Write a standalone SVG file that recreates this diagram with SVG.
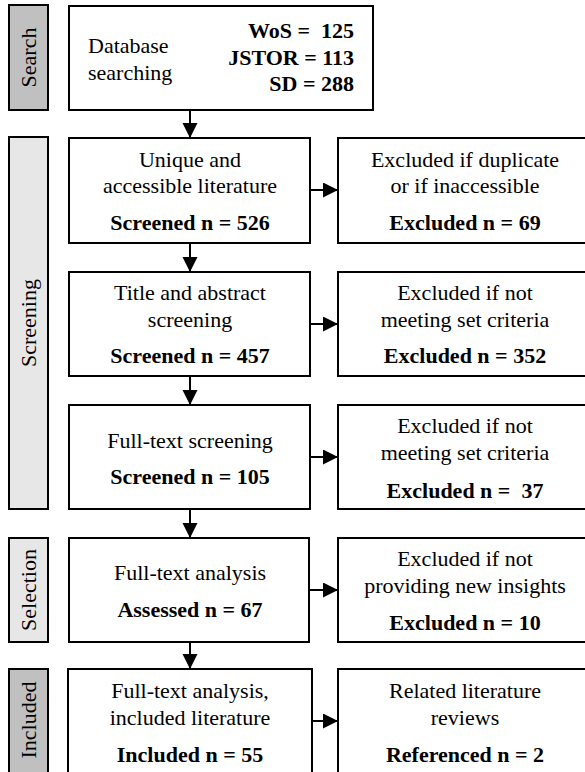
<svg xmlns="http://www.w3.org/2000/svg" width="585" height="772" viewBox="0 0 585 772">
<defs>
<style>
.box{fill:#ffffff;stroke:#000000;stroke-width:2}
.side1{fill:#c0c0c0;stroke:#000000;stroke-width:2}
.side2{fill:#e7e7e7;stroke:#000000;stroke-width:2}
text{font-family:"Liberation Serif","Times New Roman",serif;font-size:22px;fill:#000000}
.c{text-anchor:middle}
.b{font-weight:bold}
.r{text-anchor:end}
.side{font-size:22px;text-anchor:middle}
.con{stroke:#000000;stroke-width:2;fill:none;marker-end:url(#ah)}
</style>
<marker id="ah" markerUnits="userSpaceOnUse" markerWidth="16" markerHeight="16" refX="15" refY="7.5" orient="auto">
<path d="M0,0 L15,7.5 L0,15 Z" fill="#000000"/>
</marker>
</defs>

<g id="side-search">
<rect class="side1" x="9" y="5" width="39" height="105"/>
<text class="side" transform="translate(36,57.5) rotate(-90)">Search</text>
</g>
<g id="side-screening">
<rect class="side2" x="9" y="137" width="39" height="372"/>
<text class="side" transform="translate(36,323) rotate(-90)">Screening</text>
</g>
<g id="side-selection">
<rect class="side2" x="9" y="538" width="39" height="104"/>
<text class="side" transform="translate(36,590) rotate(-90)">Selection</text>
</g>
<g id="side-included">
<rect class="side1" x="9" y="669" width="39" height="104"/>
<text class="side" transform="translate(36,720) rotate(-90)">Included</text>
</g>

<g id="n-database">
<rect class="box" x="69" y="6" width="304" height="104"/>
<text x="88" y="53">Database</text>
<text x="88" y="80">searching</text>
<text class="b r" x="354" y="38" style="white-space:pre">WoS =  125</text>
<text class="b r" x="354" y="65">JSTOR = 113</text>
<text class="b r" x="354" y="91">SD = 288</text>
</g>

<g id="n-unique">
<rect class="box" x="69" y="138" width="241" height="105"/>
<text class="c" x="190" y="167">Unique and</text>
<text class="c" x="190" y="193">accessible literature</text>
<text class="c b" x="190" y="230">Screened n = 526</text>
</g>
<g id="n-excl1">
<rect class="box" x="338" y="138" width="250" height="105"/>
<text class="c" x="465" y="167">Excluded if duplicate</text>
<text class="c" x="465" y="193">or if inaccessible</text>
<text class="c b" x="465" y="230">Excluded n = 69</text>
</g>

<g id="n-title">
<rect class="box" x="69" y="272" width="241" height="104"/>
<text class="c" x="190" y="300">Title and abstract</text>
<text class="c" x="190" y="327">screening</text>
<text class="c b" x="190" y="363">Screened n = 457</text>
</g>
<g id="n-excl2">
<rect class="box" x="338" y="272" width="250" height="104"/>
<text class="c" x="465" y="300">Excluded if not</text>
<text class="c" x="465" y="327">meeting set criteria</text>
<text class="c b" x="465" y="363">Excluded n = 352</text>
</g>

<g id="n-fulltext">
<rect class="box" x="69" y="405" width="241" height="104"/>
<text class="c" x="190" y="448">Full-text screening</text>
<text class="c b" x="190" y="484">Screened n = 105</text>
</g>
<g id="n-excl3">
<rect class="box" x="338" y="405" width="250" height="104"/>
<text class="c" x="465" y="433">Excluded if not</text>
<text class="c" x="465" y="460">meeting set criteria</text>
<text class="c b" x="465" y="498" style="white-space:pre">Excluded n =  37</text>
</g>

<g id="n-analysis">
<rect class="box" x="69" y="538" width="240" height="104"/>
<text class="c" x="190" y="580">Full-text analysis</text>
<text class="c b" x="190" y="617">Assessed n = 67</text>
</g>
<g id="n-excl4">
<rect class="box" x="338" y="538" width="250" height="104"/>
<text class="c" x="465" y="566">Excluded if not</text>
<text class="c" x="465" y="593">providing new insights</text>
<text class="c b" x="465" y="630">Excluded n = 10</text>
</g>

<g id="n-included">
<rect class="box" x="68" y="669" width="244" height="106"/>
<text class="c" x="190" y="698">Full-text analysis,</text>
<text class="c" x="190" y="725">included literature</text>
<text class="c b" x="190" y="762">Included n = 55</text>
</g>
<g id="n-related">
<rect class="box" x="338" y="669" width="250" height="106"/>
<text class="c" x="465" y="698">Related literature</text>
<text class="c" x="465" y="725">reviews</text>
<text class="c b" x="465" y="762">Referenced n = 2</text>
</g>

<g id="connectors">
<line class="con" x1="190" y1="110" x2="190" y2="138"/>
<line class="con" x1="190" y1="243" x2="190" y2="272"/>
<line class="con" x1="190" y1="376" x2="190" y2="405"/>
<line class="con" x1="190" y1="509" x2="190" y2="538"/>
<line class="con" x1="190" y1="642" x2="190" y2="669"/>
<line class="con" x1="310" y1="190" x2="338" y2="190"/>
<line class="con" x1="310" y1="324" x2="338" y2="324"/>
<line class="con" x1="310" y1="457" x2="338" y2="457"/>
<line class="con" x1="309" y1="590" x2="338" y2="590"/>
<line class="con" x1="312" y1="721" x2="338" y2="721"/>
</g>
</svg>
